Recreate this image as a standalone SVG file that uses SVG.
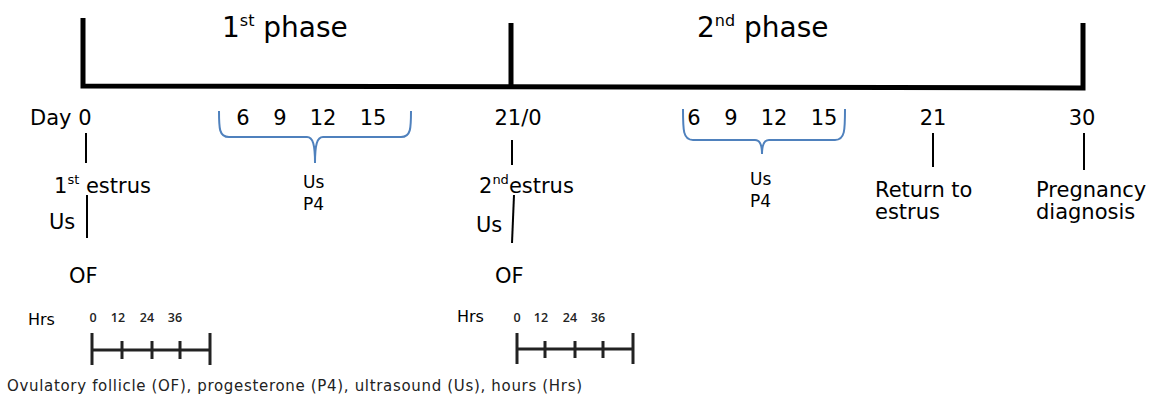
<svg xmlns="http://www.w3.org/2000/svg" width="1152" height="398" viewBox="0 0 1152 398">
<style>
text{font-family:"DejaVu Sans","Liberation Sans",sans-serif;fill:#000}
.t{font-size:21px}
.s{font-size:17px}
.h{font-size:16px}
.n{font-family:"Open Sans","DejaVu Sans",sans-serif;font-size:12.5px;font-weight:600;fill:#222}
.f{font-size:15px;fill:#222}
.tick{stroke:#000;stroke-width:2;fill:none}
.brace{stroke:#4f81bd;stroke-width:2;fill:none}
.bar{stroke:#222;stroke-width:3;fill:none}
</style>
<rect width="1152" height="398" fill="#fff"/>
<g id="timeline">
<path d="M83,18 V86 L1083,88 V23" stroke="#000" stroke-width="5" fill="none"/>
<path d="M511,23 V87" stroke="#000" stroke-width="5" fill="none"/>
<text x="222" y="37" style="font-size:28px">1<tspan dy="-11" style="font-size:16px">st</tspan><tspan dy="11"> phase</tspan></text>
<text x="697" y="37" style="font-size:28px">2<tspan dy="-11" style="font-size:16px">nd</tspan><tspan dy="11"> phase</tspan></text>
</g>
<g id="connectors">
<line class="tick" x1="86" y1="133" x2="86" y2="163"/>
<line class="tick" x1="512" y1="140" x2="512" y2="165"/>
<line class="tick" x1="933" y1="133" x2="933" y2="167"/>
<line class="tick" x1="1084" y1="133" x2="1084" y2="170"/>
<line class="tick" x1="87" y1="195" x2="87" y2="238"/>
<line class="tick" x1="514" y1="195" x2="512" y2="243"/>
<path class="brace" d="M219,111 C219,128 219,137 229,137 H307 C313,137 315,145 315,163 C315,145 317,137 323,137 H401 C411,137 411,128 411,111"/>
<path class="brace" d="M683,109 C683,130 683,140 693,140 H755 C760,140 762,146 762,154 C762,146 764,140 769,140 H835 C845,140 845,130 845,109"/>
</g>
<g id="day0">
<text class="t" x="30" y="125">Day 0</text>
<text class="t" x="54" y="193">1<tspan dy="-9" style="font-size:13px">st</tspan><tspan dy="9"> estrus</tspan></text>
<text class="t" x="49" y="229">Us</text>
<text class="t" x="69" y="283">OF</text>
</g>
<g id="phase1-days">
<text class="t" text-anchor="middle" x="243" y="125">6</text>
<text class="t" text-anchor="middle" x="280" y="125">9</text>
<text class="t" text-anchor="middle" x="323" y="125">12</text>
<text class="t" text-anchor="middle" x="373" y="125">15</text>
<text class="s" x="303" y="188">Us</text>
<text class="s" x="303" y="210">P4</text>
</g>
<g id="day21-0">
<text class="t" text-anchor="middle" x="518" y="125">21/0</text>
<text class="t" x="479" y="193">2<tspan dy="-9" style="font-size:13px">nd</tspan><tspan dy="9">estrus</tspan></text>
<text class="t" x="476" y="232">Us</text>
<text class="t" x="495" y="283">OF</text>
</g>
<g id="phase2-days">
<text class="t" text-anchor="middle" x="694" y="125">6</text>
<text class="t" text-anchor="middle" x="731" y="125">9</text>
<text class="t" text-anchor="middle" x="774" y="125">12</text>
<text class="t" text-anchor="middle" x="824" y="125">15</text>
<text class="s" x="750" y="185">Us</text>
<text class="s" x="750" y="207">P4</text>
</g>
<g id="day21">
<text class="t" text-anchor="middle" x="933" y="125">21</text>
<text class="t" x="875" y="197">Return to</text>
<text class="t" x="875" y="219">estrus</text>
</g>
<g id="day30">
<text class="t" text-anchor="middle" x="1082" y="125">30</text>
<text class="t" x="1036" y="197">Pregnancy</text>
<text class="t" x="1036" y="219">diagnosis</text>
</g>
<g id="hours1">
<text class="h" x="28" y="325">Hrs</text>
<text class="n" text-anchor="middle" x="93" y="322">0</text>
<text class="n" text-anchor="middle" x="118" y="322">12</text>
<text class="n" text-anchor="middle" x="147" y="322">24</text>
<text class="n" text-anchor="middle" x="175" y="322">36</text>
<path class="bar" d="M92,350 H210 M92,333 V365 M210,333 V365 M122,341 V359 M152,341 V359 M180,341 V359"/>
</g>
<g id="hours2">
<text class="h" x="457" y="322">Hrs</text>
<text class="n" text-anchor="middle" x="517" y="322">0</text>
<text class="n" text-anchor="middle" x="541" y="322">12</text>
<text class="n" text-anchor="middle" x="570" y="322">24</text>
<text class="n" text-anchor="middle" x="598" y="322">36</text>
<path class="bar" d="M517,349 H633 M517,333 V364 M633,333 V364 M545,341 V358 M575,341 V358 M603,341 V358"/>
</g>
<g id="legend">
<text class="f" x="7" y="391" textLength="575" lengthAdjust="spacing">Ovulatory follicle (OF), progesterone (P4), ultrasound (Us), hours (Hrs)</text>
</g>
</svg>
